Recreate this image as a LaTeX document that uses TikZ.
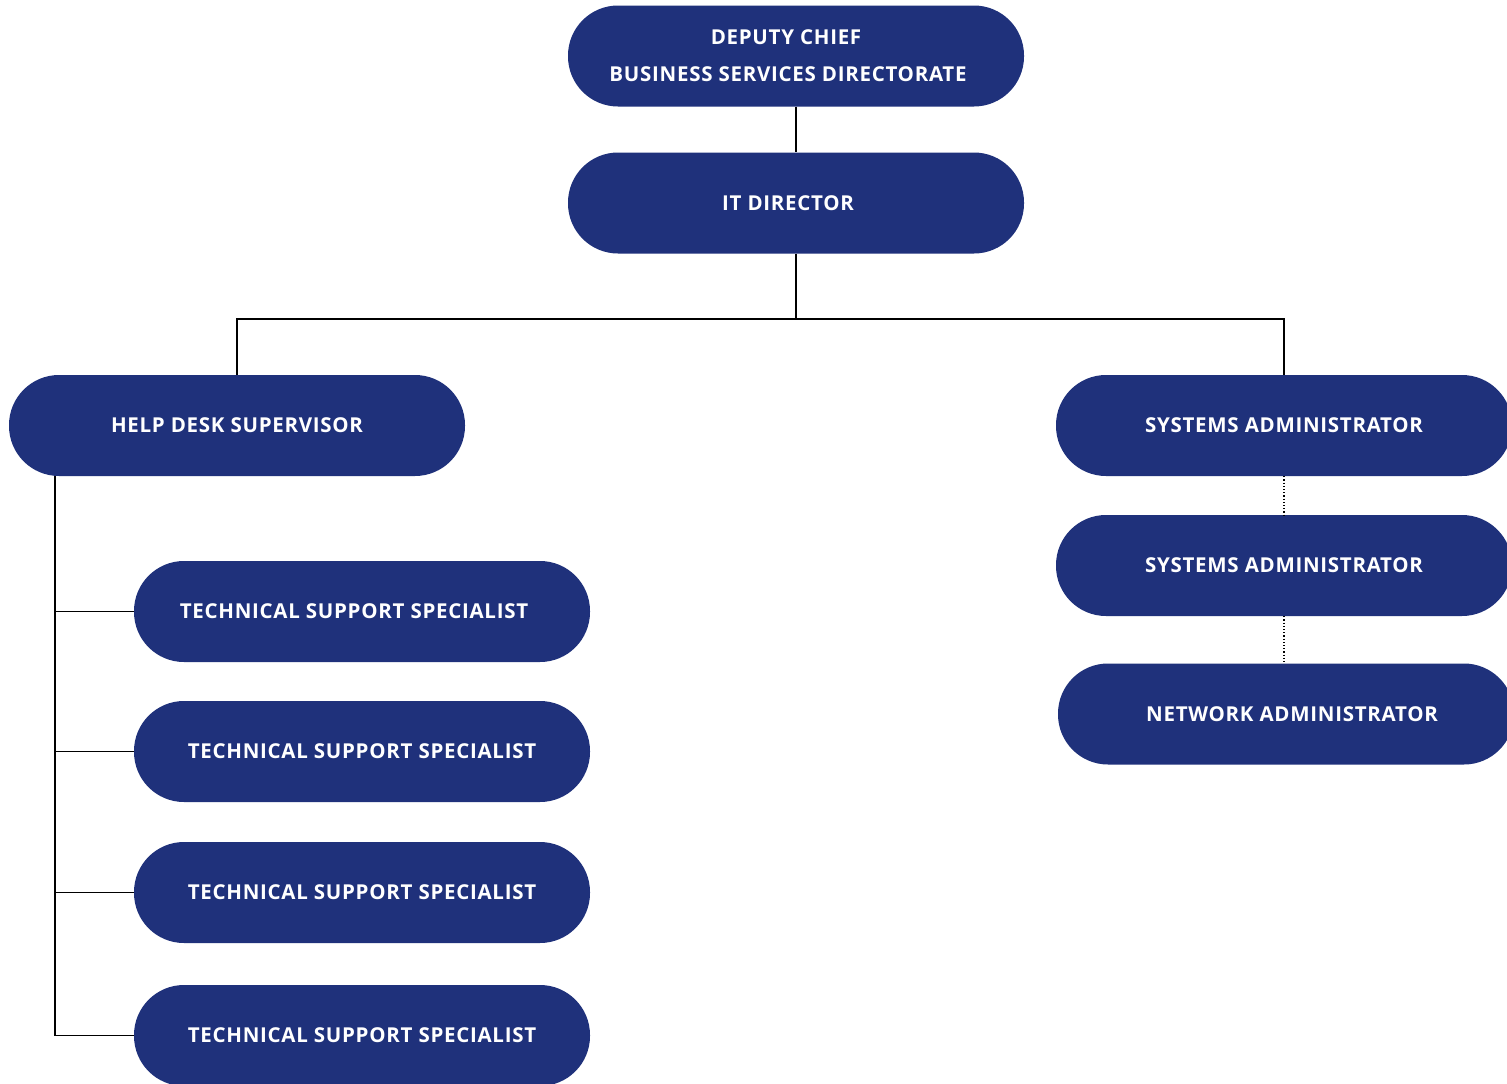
\documentclass[tikz,border=0pt]{standalone}
\usepackage{fontspec}
\setmainfont{Open Sans}[LetterSpace=3.5]
\usetikzlibrary{calc}
\definecolor{navy}{RGB}{31,49,123}
\newcommand{\mvx}[2]{\hspace*{#1}#2}
\tikzset{
  pill/.style={rectangle, rounded corners=50pt, fill=navy, text=white,
    minimum width=456pt, minimum height=101pt, inner sep=0pt,
    font=\fontsize{20.5}{37}\selectfont\bfseries, align=center},
  link/.style={line width=1.5pt, black},
  dotlink/.style={line width=1.2pt, black, dotted}
}
\begin{document}
\begin{tikzpicture}[x=1pt,y=-1pt]
\useasboundingbox (0,0) rectangle (1507,1084);
\clip (0,0) rectangle (1507,1084);
\fill[white] (0,0) rectangle (1507,1084);
\node[pill] (dep) at (796,56) {\mvx{-20pt}{DEPUTY CHIEF}\\\mvx{-16pt}{BUSINESS SERVICES DIRECTORATE}};
\node[pill] (it) at (796,203) {\mvx{-16pt}{IT DIRECTOR}};
\node[pill] (hd) at (237,425.5) {HELP DESK SUPERVISOR};
\node[pill] (t1) at (362,611.5) {\mvx{-16pt}{TECHNICAL SUPPORT SPECIALIST}};
\node[pill] (t2) at (362,751.5) {TECHNICAL SUPPORT SPECIALIST};
\node[pill] (t3) at (362,892.5) {TECHNICAL SUPPORT SPECIALIST};
\node[pill] (t4) at (362,1035.5) {TECHNICAL SUPPORT SPECIALIST};
\node[pill] (sa1) at (1284,425.5) {SYSTEMS ADMINISTRATOR};
\node[pill] (sa2) at (1284,565.5) {SYSTEMS ADMINISTRATOR};
\node[pill] (na) at (1286,714) {\mvx{12pt}{}NETWORK ADMINISTRATOR};
\coordinate (bus) at (796,319);
\coordinate (spine) at (55,476);
\draw[link] (dep.south) -- (it.north);
\draw[link] (it.south) -- (bus);
\draw[link] (hd.north) -- (hd.north |- bus) -- (sa1.north |- bus) -- (sa1.north);
\draw[link] (spine) -- (spine |- t4.west) -- (t4.west);
\draw[link] (spine |- t1.west) -- (t1.west);
\draw[link] (spine |- t2.west) -- (t2.west);
\draw[link] (spine |- t3.west) -- (t3.west);
\draw[dotlink] (sa1.south) -- (sa2.north);
\draw[dotlink] (sa2.south) -- (sa2.south |- na.north);
\end{tikzpicture}
\end{document}
